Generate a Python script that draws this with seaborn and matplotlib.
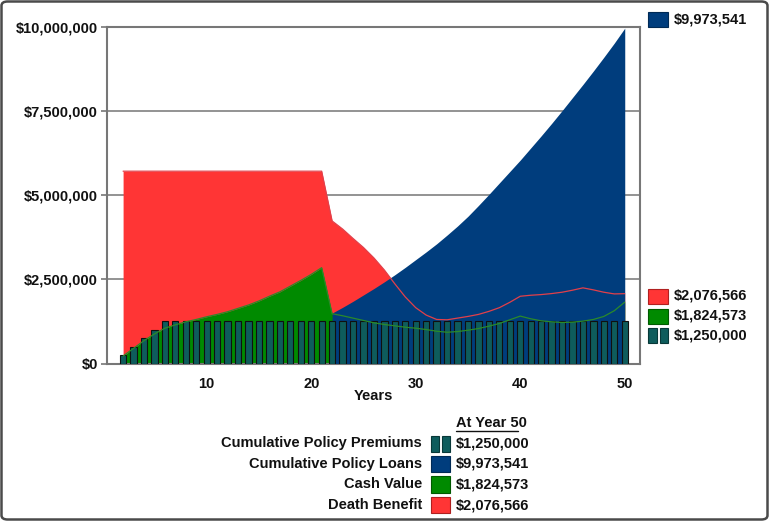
import numpy as np
import pandas as pd
import matplotlib
matplotlib.use("Agg")
import matplotlib.pyplot as plt
import seaborn as sns
from matplotlib.patches import Rectangle, FancyBboxPatch
from matplotlib.lines import Line2D
from matplotlib.ticker import FuncFormatter

# ---------------- data (values in $ millions) ----------------
years = [2, 3, 4, 5, 6, 7, 8, 9, 10, 11, 12, 13, 14, 15, 16, 17, 18, 19, 20, 21,
         22, 23, 24, 25, 26, 27, 28, 29, 30, 31, 32, 33, 34, 35, 36, 37, 38, 39, 40,
         41, 42, 43, 44, 45, 46, 47, 48, 49, 50]

premiums = [0.25, 0.50, 0.75, 1.00, 1.25, 1.25, 1.25, 1.25, 1.25, 1.25, 1.25, 1.25,
            1.25, 1.25, 1.25, 1.25, 1.25, 1.25, 1.25, 1.25, 1.25, 1.25, 1.25, 1.25,
            1.25, 1.25, 1.25, 1.25, 1.25, 1.25, 1.25, 1.25, 1.25, 1.25, 1.25, 1.25,
            1.25, 1.25, 1.25, 1.25, 1.25, 1.25, 1.25, 1.25, 1.25, 1.25, 1.25, 1.25, 1.25]

death_benefit = [5.72, 5.72, 5.72, 5.72, 5.72, 5.72, 5.72, 5.72, 5.72, 5.72,
                 5.72, 5.72, 5.72, 5.72, 5.72, 5.72, 5.72, 5.72, 5.72, 5.72,
                 4.24, 4.00, 3.72, 3.45, 3.14, 2.78, 2.37, 1.98, 1.66, 1.44,
                 1.31, 1.30, 1.35, 1.40, 1.46, 1.55, 1.66, 1.82, 2.00, 2.03,
                 2.05, 2.08, 2.12, 2.18, 2.25, 2.19, 2.12, 2.07, 2.077]

cash_value = [0.22, 0.45, 0.68, 0.88, 1.05, 1.15, 1.24, 1.31, 1.39, 1.46,
              1.54, 1.64, 1.74, 1.86, 2.00, 2.13, 2.30, 2.47, 2.65, 2.85,
              1.48, 1.42, 1.35, 1.28, 1.21, 1.16, 1.12, 1.08, 1.05, 1.01,
              0.96, 0.93, 0.95, 0.99, 1.04, 1.11, 1.19, 1.30, 1.41, 1.33,
              1.27, 1.24, 1.22, 1.23, 1.26, 1.31, 1.40, 1.57, 1.825]

policy_loans = [np.nan, np.nan, np.nan, np.nan, np.nan, np.nan, np.nan, np.nan, np.nan, np.nan,
                np.nan, np.nan, np.nan, np.nan, np.nan, np.nan, np.nan, np.nan, np.nan, np.nan,
                1.50, 1.67, 1.85, 2.04, 2.23, 2.43, 2.64, 2.86, 3.09, 3.32,
                3.56, 3.82, 4.09, 4.38, 4.70, 5.03, 5.37, 5.71, 6.05, 6.41,
                6.77, 7.14, 7.52, 7.91, 8.30, 8.70, 9.11, 9.53, 9.974]

y_ticks = [0, 2.5, 5, 7.5, 10]
x_ticks = [10, 20, 30, 40, 50]

table_labels = ["Cumulative Policy Premiums", "Cumulative Policy Loans",
                "Cash Value", "Death Benefit"]
table_values = ["$1,250,000", "$9,973,541", "$1,824,573", "$2,076,566"]
table_header = "At Year 50"

# ---------------- style ----------------
RED = "#ff3535"
GREEN = "#008a00"
BLUE = "#003d7d"
TEAL = "#0e5c5c"
RED_LINE = "#e2404a"
GREEN_LINE = "#2a8a2a"
TXT = "#111111"

sns.set_style("white")
plt.rcParams["font.family"] = ["Liberation Sans", "DejaVu Sans"]
plt.rcParams["font.weight"] = "bold"

W, H = 769, 521
fig = plt.figure(figsize=(W / 100, H / 100), dpi=100)
fig.patch.set_facecolor("white")

def fx(px):
    return px / W

def fy(py):
    return 1 - py / H

ax_l, ax_r, ax_t, ax_b = 107, 640, 27.3, 363.5
ax = fig.add_axes([fx(ax_l), fy(ax_b), fx(ax_r) - fx(ax_l), fy(ax_t) - fy(ax_b)])

df = pd.DataFrame({"year": years, "prem": premiums, "db": death_benefit,
                   "cv": cash_value, "loan": policy_loans})

ax.fill_between(df["year"], 0, df["db"], color=RED, lw=0, zorder=1)
ax.fill_between(df["year"], 0, df["cv"], color=GREEN, lw=0, zorder=2)
ax.fill_between(df["year"], 0, df["loan"], color=BLUE, lw=0, zorder=3)

sns.barplot(data=df, x="year", y="prem", native_scale=True, orient="x",
            width=0.6, color=TEAL, saturation=1, edgecolor="#101010",
            linewidth=0.8, errorbar=None, ax=ax, zorder=4)
for p in ax.patches:
    p.set_zorder(4)

sns.lineplot(data=df, x="year", y="db", color=RED_LINE, lw=0.9, ax=ax, zorder=5)
sns.lineplot(data=df, x="year", y="cv", color=GREEN_LINE, lw=0.9, ax=ax, zorder=5)

ax.set_xlim(0.46, 51.46)
ax.set_ylim(0, 10)
ax.set_yticks(y_ticks)
ax.set_xticks(x_ticks)
ax.yaxis.set_major_formatter(FuncFormatter(lambda v, p: f"${v * 1e6:,.0f}"))
ax.set_xlabel("")
ax.set_ylabel("")
ax.grid(axis="y", color="#808080", lw=1.2, zorder=0.5)
ax.grid(axis="x", visible=False)
ax.set_axisbelow(True)
for s in ax.spines.values():
    s.set_visible(True)
    s.set_color("#777777")
    s.set_linewidth(1.5)
ax.tick_params(axis="y", length=4, width=1.2, color="#777777", pad=2.5,
               labelsize=10.5, labelcolor=TXT, left=True)
ax.tick_params(axis="x", length=0, pad=9.5, labelsize=10.5, labelcolor=TXT)
for lab in ax.get_xticklabels() + ax.get_yticklabels():
    lab.set_fontweight("bold")

fig.text(fx(373), fy(396), "Years", ha="center", va="center",
         fontsize=10.5, fontweight="bold", color=TXT)

# ---------------- right-side legend ----------------
def box(x0, y0, x1, y1, color, edge):
    fig.patches.append(Rectangle((fx(x0), fy(y1)), fx(x1) - fx(x0), fy(y0) - fy(y1),
                                 transform=fig.transFigure, facecolor=color,
                                 edgecolor=edge, lw=0.8))

def double_box(x0, y0, x1, y1):
    mid = (x0 + x1) / 2
    box(x0, y0, mid - 1.5, y1, TEAL, "#083838")
    box(mid + 1.5, y0, x1, y1, TEAL, "#083838")

right_items = [(19.5, BLUE, "#002a55", table_values[1], False),
               (296, RED, "#b02020", table_values[3], False),
               (316, GREEN, "#005a00", table_values[2], False),
               (335.5, TEAL, "#083838", table_values[0], True)]
for yc, col, edge, txt, dbl in right_items:
    if dbl:
        double_box(648, yc - 7.5, 668, yc + 7.5)
    else:
        box(648, yc - 7.5, 668, yc + 7.5, col, edge)
    fig.text(fx(674), fy(yc), txt, ha="left", va="center", fontsize=10.5,
             fontweight="bold", color=TXT)

# ---------------- bottom table ----------------
fig.text(fx(456), fy(423), table_header, ha="left", va="center", fontsize=10.5,
         fontweight="bold", color=TXT)
fig.add_artist(Line2D([fx(456), fx(518)], [fy(431), fy(431)], color=TXT, lw=1.0,
                      transform=fig.transFigure))
row_y = [443.5, 464, 484.5, 505]
row_cols = [(TEAL, "#083838"), (BLUE, "#002a55"), (GREEN, "#005a00"), (RED, "#b02020")]
for i, (lab, val) in enumerate(zip(table_labels, table_values)):
    yc = row_y[i]
    fig.text(fx(422), fy(yc), lab, ha="right", va="center", fontsize=10.5,
             fontweight="bold", color=TXT)
    if i == 0:
        double_box(431, yc - 8, 450, yc + 8)
    else:
        box(431, yc - 8, 450, yc + 8, row_cols[i][0], row_cols[i][1])
    fig.text(fx(456), fy(yc), val, ha="left", va="center", fontsize=10.5,
             fontweight="bold", color=TXT)

# ---------------- outer frame ----------------
fig.patches.append(FancyBboxPatch((fx(1.5), fy(519.5)), fx(766), fy(1.5) - fy(519.5),
                                  boxstyle="round,pad=0,rounding_size=0.008",
                                  transform=fig.transFigure, facecolor="none",
                                  edgecolor="#4a4a4a", lw=1.8))

fig.savefig("out.png", dpi=100, facecolor="white")
